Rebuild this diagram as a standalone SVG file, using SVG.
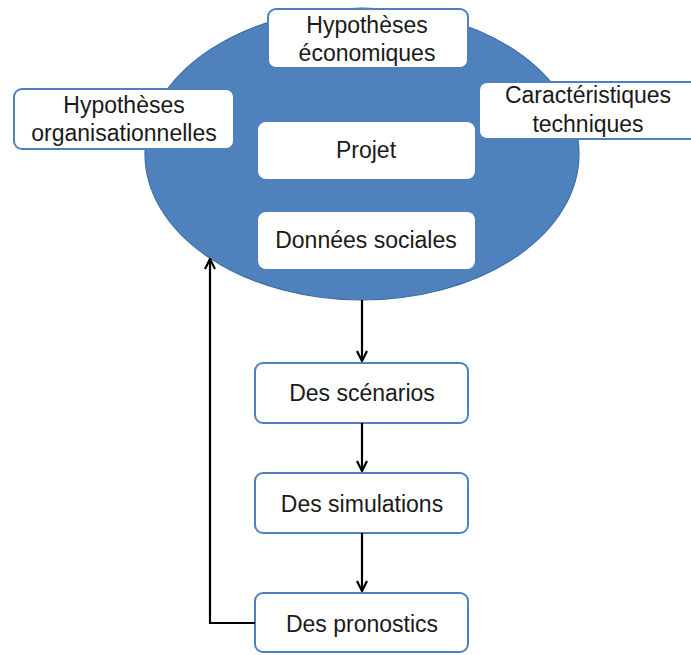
<svg xmlns="http://www.w3.org/2000/svg" width="691" height="655" viewBox="0 0 691 655">
<style>
.bg{fill:#ffffff}
.ell{fill:#4f81bd;stroke:#3f6ea8;stroke-width:1.2}
.box{fill:#ffffff;stroke:#4f81bd;stroke-width:2}
.inner{fill:#ffffff;stroke:none}
.t{font-family:"Liberation Sans",Arial,sans-serif;font-size:23px;fill:#1a1a1a;text-anchor:middle}
.c{fill:none;stroke:#000000;stroke-width:2.2}
</style>
<defs>
<marker id="arr" viewBox="0 0 12 12" refX="11" refY="6" markerWidth="12" markerHeight="12" markerUnits="userSpaceOnUse" orient="auto">
<path d="M1,1 L11,6 L1,11" fill="none" stroke="#000" stroke-width="2.2"/>
</marker>
</defs>
<rect class="bg" x="0" y="0" width="691" height="655"/>
<g id="cluster">
<ellipse class="ell" cx="362" cy="154" rx="217" ry="146"/>
</g>
<g id="hyp-eco">
<rect class="box" x="268" y="9" width="200" height="59" rx="8"/>
<text class="t" x="367" y="33">Hypothèses</text>
<text class="t" x="367" y="61">économiques</text>
</g>
<g id="hyp-org">
<rect class="box" x="14" y="89" width="220" height="60" rx="8"/>
<text class="t" x="124" y="113">Hypothèses</text>
<text class="t" x="124" y="141">organisationnelles</text>
</g>
<g id="carac">
<rect class="box" x="479" y="82" width="230" height="57" rx="8"/>
<text class="t" x="588" y="103">Caractéristiques</text>
<text class="t" x="588" y="132">techniques</text>
</g>
<g id="projet">
<rect class="inner" x="258" y="122" width="217" height="57" rx="8"/>
<text class="t" x="366" y="158">Projet</text>
</g>
<g id="donnees">
<rect class="inner" x="258" y="212" width="217" height="57" rx="8"/>
<text class="t" x="366" y="248">Données sociales</text>
</g>
<g id="scenarios">
<rect class="box" x="255" y="363" width="213" height="60" rx="8"/>
<text class="t" x="362" y="401">Des scénarios</text>
</g>
<g id="simulations">
<rect class="box" x="255" y="473" width="213" height="60" rx="8"/>
<text class="t" x="362" y="512">Des simulations</text>
</g>
<g id="pronostics">
<rect class="box" x="255" y="593" width="213" height="59" rx="8"/>
<text class="t" x="362" y="632">Des pronostics</text>
</g>
<g id="connectors">
<path class="c" d="M362,300 L362,361" marker-end="url(#arr)"/>
<path class="c" d="M362,423 L362,471" marker-end="url(#arr)"/>
<path class="c" d="M362,533 L362,591" marker-end="url(#arr)"/>
<path class="c" d="M255,623 L210,623 L210,259" marker-end="url(#arr)"/>
</g>
</svg>
